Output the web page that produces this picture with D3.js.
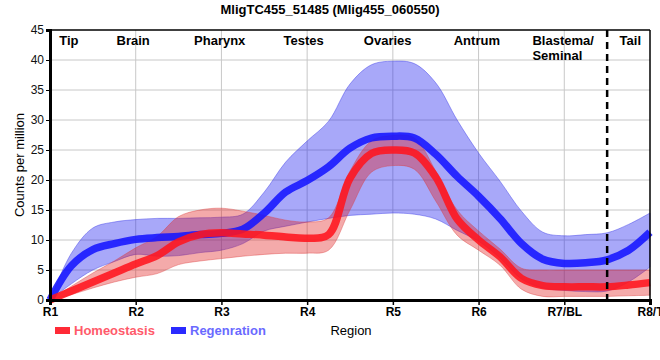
<!DOCTYPE html>
<html>
<head>
<meta charset="utf-8">
<script src="https://cdn.jsdelivr.net/npm/d3@7"></script>
<style>
  html, body { margin: 0; padding: 0; background: #fff; }
  svg { display: block; font-family: "Liberation Sans", Arial, sans-serif; }
</style>
</head>
<body>
<svg id="chart" width="660" height="360"></svg>
<script>
// ---- data ----
const regions = ["R1", "R2", "R3", "R4", "R5", "R6", "R7/BL", "R8/T"];
const tissues = ["Tip", "Brain", "Pharynx", "Testes", "Ovaries", "Antrum", "Blastema/|Seminal", "Tail"];
const yTicks = [0, 5, 10, 15, 20, 25, 30, 35, 40, 45];
// positions along the region axis (R1 = 0 ... R8/T = 7)
const pos = [0, 0.25, 0.5, 0.75, 1, 1.25, 1.5, 1.75, 2, 2.25, 2.5, 2.75, 3, 3.25, 3.5,
             3.75, 4, 4.25, 4.5, 4.75, 5, 5.25, 5.5, 5.75, 6, 6.25, 6.5, 6.75, 7];
const regMean = [0, 5.7, 8.4, 9.4, 10.1, 10.4, 10.6, 10.9, 11.1, 11.8, 14.5, 18.0, 19.9, 22.2, 25.3,
                 27.0, 27.3, 27.0, 24.3, 20.6, 17.3, 13.6, 9.4, 6.8, 6.1, 6.2, 6.7, 8.3, 11.3];
const regHigh = [0, 7.8, 12.0, 13.0, 13.4, 13.6, 13.6, 13.7, 13.8, 14.3, 18.0, 23.0, 26.5, 29.8, 36.0,
                 39.2, 39.8, 39.4, 36.2, 30.0, 24.5, 19.8, 14.8, 11.3, 10.7, 10.9, 11.2, 12.6, 14.5];
const regLow  = [0, 2.7, 5.0, 6.4, 7.6, 7.3, 7.4, 7.9, 8.3, 9.4, 11.5, 12.3, 13.0, 13.6, 14.1,
                 14.3, 14.5, 14.3, 13.5, 11.6, 9.8, 7.0, 3.5, 2.0, 1.6, 1.4, 1.5, 3.0, 5.5];
const homMean = [0, 1.5, 3.0, 4.5, 6.0, 7.4, 9.7, 10.9, 11.2, 11.0, 10.8, 10.5, 10.3, 10.9, 20.3,
                 24.4, 25.0, 24.5, 20.5, 13.5, 10.0, 7.2, 3.6, 2.4, 2.2, 2.2, 2.2, 2.5, 2.9];
const homHigh = [0, 2.3, 4.5, 6.5, 8.7, 10.6, 13.9, 15.0, 15.3, 14.8, 14.1, 13.3, 13.0, 13.7, 21.5,
                 26.5, 27.4, 27.0, 21.5, 15.0, 11.5, 8.5, 5.3, 5.0, 5.0, 5.0, 5.0, 5.0, 5.0];
const homLow  = [0, 0.9, 2.0, 3.0, 3.8, 4.4, 5.9, 6.5, 6.9, 7.3, 7.6, 7.8, 7.8, 8.3, 15.0,
                 21.3, 22.4, 21.8, 16.5, 10.8, 8.3, 5.8, 1.8, 0.6, 0.6, 0.6, 0.6, 0.7, 0.8];
const seriesNames = ["Homeostasis", "Regenration"];

// ---- layout ----
const svg = d3.select("#chart");
const L = 50, R = 650, T = 30, B = 300;
const x = d3.scaleLinear().domain([0, regions.length - 1]).range([L, R]);
const y = d3.scaleLinear().domain([0, 45]).range([B, T]);

// title
svg.append("text").attr("x", 330).attr("y", 14).attr("text-anchor", "middle")
  .attr("font-weight", "bold").attr("font-size", 13).text("MligTC455_51485 (Mlig455_060550)");

// grid
svg.append("g").selectAll("line").data(yTicks.slice(1, -1)).join("line")
  .attr("x1", L).attr("x2", R).attr("y1", d => y(d)).attr("y2", d => y(d))
  .attr("stroke", "#c8c8c8").attr("stroke-width", 1);
svg.append("g").selectAll("line").data(d3.range(1, regions.length - 1)).join("line")
  .attr("x1", d => x(d)).attr("x2", d => x(d)).attr("y1", T).attr("y2", B)
  .attr("stroke", "#c8c8c8").attr("stroke-width", 1);

// bands and lines
const rows = pos.map((p, i) => ({p, rm: regMean[i], rh: regHigh[i], rl: regLow[i],
                                  hm: homMean[i], hh: homHigh[i], hl: homLow[i]}));
const curve = d3.curveCatmullRom.alpha(0.5);
const area = (hi, lo) => d3.area().curve(curve).x(d => x(d.p)).y0(d => y(d[lo])).y1(d => y(d[hi]));
const line = k => d3.line().curve(curve).x(d => x(d.p)).y(d => y(d[k]));

const plot = svg.append("g");
plot.append("path").datum(rows).attr("d", area("rh", "rl"))
  .attr("fill", "rgba(20,20,240,0.37)").attr("stroke", "rgba(60,60,230,0.45)").attr("stroke-width", 1);
plot.append("path").datum(rows).attr("d", area("hh", "hl"))
  .attr("fill", "rgba(225,20,20,0.36)").attr("stroke", "rgba(220,60,60,0.4)").attr("stroke-width", 1);
plot.append("path").datum(rows).attr("d", line("rm"))
  .attr("fill", "none").attr("stroke", "rgba(20,20,255,0.88)").attr("stroke-width", 7.5)
  .attr("stroke-linejoin", "round");
plot.append("path").datum(rows).attr("d", line("hm"))
  .attr("fill", "none").attr("stroke", "rgba(255,20,30,0.88)").attr("stroke-width", 7.5)
  .attr("stroke-linejoin", "round");

// dashed separator between R7/BL and R8/T
svg.append("line").attr("x1", x(6.5)).attr("x2", x(6.5)).attr("y1", T).attr("y2", B)
  .attr("stroke", "#000").attr("stroke-width", 2.5).attr("stroke-dasharray", "7,5");

// frame
svg.append("line").attr("x1", L).attr("x2", R).attr("y1", T).attr("y2", T).attr("stroke", "#000").attr("stroke-width", 1.5);
svg.append("line").attr("x1", R).attr("x2", R).attr("y1", T).attr("y2", B).attr("stroke", "#000").attr("stroke-width", 1.5);

// axes
const yAxis = svg.append("g").attr("transform", `translate(${L},0)`)
  .call(d3.axisLeft(y).tickValues(yTicks).tickSize(4).tickPadding(2));
yAxis.select(".domain").attr("stroke-width", 3);
yAxis.selectAll("text").attr("font-size", 12).attr("fill", "#111").attr("font-family", "Liberation Sans, Arial, sans-serif");

const xAxis = svg.append("g").attr("transform", `translate(0,${B})`)
  .call(d3.axisBottom(x).tickValues(d3.range(regions.length)).tickFormat(i => regions[i]).tickSize(5).tickPadding(2));
xAxis.select(".domain").attr("stroke-width", 3);
xAxis.selectAll(".tick line").attr("stroke-width", 1.5);
xAxis.selectAll("text").attr("font-size", 12).attr("font-weight", "bold").attr("fill", "#000")
  .attr("font-family", "Liberation Sans, Arial, sans-serif");

// tissue labels
const tissueAt = [0.22, 0.97, 1.98, 2.96, 3.94, 4.98, 5.99, 6.77];
tissues.forEach((t, i) => {
  const parts = t.split("|");
  const tx = svg.append("text").attr("font-weight", "bold").attr("font-size", 13)
    .attr("text-anchor", parts.length > 1 ? "start" : "middle");
  parts.forEach((p, j) => {
    tx.append("tspan").attr("x", parts.length > 1 ? x(tissueAt[i]) - 31 : x(tissueAt[i]))
      .attr("y", 45 + j * 15).text(p);
  });
});

// axis titles
svg.append("text").attr("transform", "translate(24,165) rotate(-90)").attr("text-anchor", "middle")
  .attr("font-size", 13).text("Counts per million");
svg.append("text").attr("x", 351).attr("y", 335).attr("text-anchor", "middle")
  .attr("font-size", 13).text("Region");

// legend
const legendColors = ["#ff2a36", "#2a2aff"];
const legendText = ["#ff5a6a", "#6a6aff"];
const legendX = [55, 171];
seriesNames.forEach((s, i) => {
  svg.append("rect").attr("x", legendX[i]).attr("y", 327).attr("width", 15).attr("height", 7)
    .attr("fill", legendColors[i]);
  svg.append("text").attr("x", legendX[i] + 19).attr("y", 335).attr("font-size", 13)
    .attr("font-weight", "bold").attr("fill", legendText[i]).text(s);
});
</script>
</body>
</html>
